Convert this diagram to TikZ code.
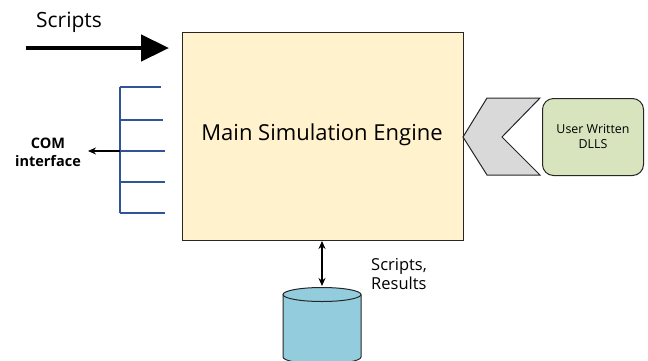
\documentclass[tikz,border=0pt]{standalone}
\usepackage{fontspec}
\setmainfont{Open Sans}
\usetikzlibrary{arrows.meta}
\definecolor{engfill}{HTML}{FFF2CC}
\definecolor{combblue}{HTML}{2F5597}
\definecolor{chevgray}{HTML}{D9D9D9}
\definecolor{dllgreen}{HTML}{D7E4BD}
\definecolor{dbblue}{HTML}{93CDDD}
\definecolor{edge}{HTML}{262626}
\tikzset{
  comb/.style={draw=combblue, line width=1.6pt},
  thinarrow/.style={line width=1.2pt},
}
\begin{document}
\begin{tikzpicture}[x=1pt,y=-1pt]
\useasboundingbox (0,0) rectangle (648,360);
% main engine
\node[draw=edge, fill=engfill, line width=1pt, minimum width=281pt, minimum height=208pt, inner sep=0pt, anchor=north west] (eng) at (182,32) {};
\node[font=\fontsize{22}{26}\selectfont, inner sep=0pt] (engtxt) at (322,135) {Main Simulation Engine};
% scripts arrow
\coordinate (sstart) at (26,48);
\coordinate (send) at (169,48);
\draw[line width=4.5pt, -{Triangle[length=28pt,width=26pt]}] (sstart) -- (send);
\node[font=\fontsize{21}{24}\selectfont, anchor=west, inner sep=0pt] (scripts) at (36,22) {Scripts};
% comb
\coordinate (ct) at (120,87);
\coordinate (cb) at (120,213);
\draw[comb] (ct) -- (cb);
\foreach \yy/\xe [count=\i] in {87/161,120/163,151/165,182/165,213/165}{
  \coordinate (c\i) at (120,\yy);
  \coordinate (e\i) at (\xe,\yy);
  \draw[comb] (c\i) -- (e\i);
}
\node[font=\bfseries\fontsize{14.5}{18}\selectfont, align=center, inner sep=0pt] (com) at (48,152) {COM\\interface};
\coordinate (comend) at (88,151);
\draw[thinarrow, -{Stealth[length=8pt,width=7pt]}] (c3) -- (comend);
% chevron
\path[draw=edge, fill=chevgray, line width=1pt] (487,98) -- (540,98) -- (502,137) -- (540,175) -- (487,175) -- (463,137) -- cycle;
% DLL box
\node[draw=edge, fill=dllgreen, line width=1pt, rounded corners=11pt, minimum width=101pt, minimum height=77pt, anchor=north west, align=center, font=\fontsize{12.4}{15}\selectfont, inner sep=0pt] (dll) at (542,98) {User Written\\DLLS};
% database
\path[draw=edge, fill=dbblue, line width=1pt] (283,294.5) -- (283,357) arc[start angle=180, end angle=360, x radius=39pt, y radius=7pt] -- (361,294.5);
\path[draw=edge, fill=dbblue, line width=1pt] (322,294.5) ellipse[x radius=39pt, y radius=7pt];
\coordinate (db) at (322,286);
\draw[thinarrow, {Stealth[length=8pt,width=7pt]}-{Stealth[length=8pt,width=7pt]}] (eng.south -| db) -- (db);
\node[font=\fontsize{16.5}{19}\selectfont, align=left, anchor=north west, inner sep=0pt] (sr) at (371,258) {Scripts,\\Results};
\end{tikzpicture}
\end{document}
